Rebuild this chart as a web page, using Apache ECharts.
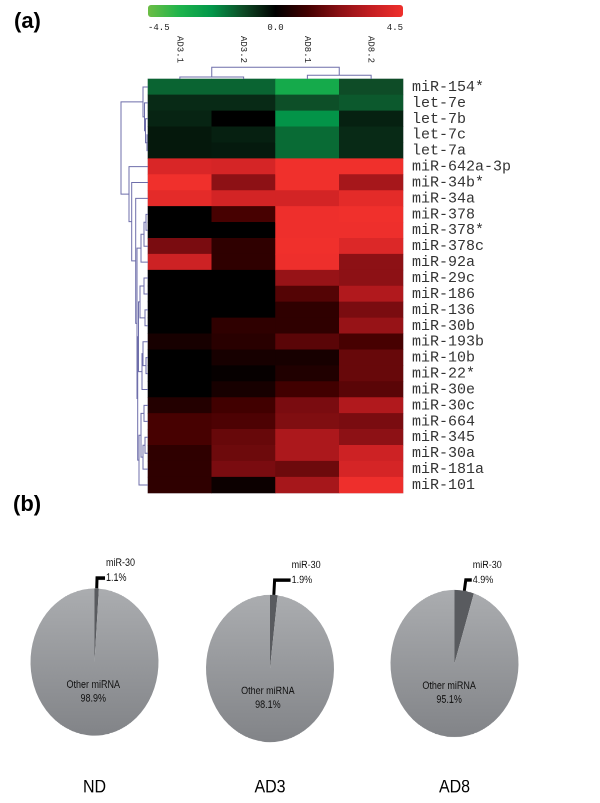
<!DOCTYPE html>
<html><head><meta charset="utf-8">
<script src="https://cdn.jsdelivr.net/npm/echarts@6/dist/echarts.min.js"></script>
<style>
html,body{margin:0;padding:0;background:#fff;overflow:hidden;width:600px;height:803px;}
#main{position:absolute;left:0;top:0;width:600px;height:803px;}
#pies{position:absolute;left:0;top:540px;width:600px;height:230px;transform:scaleY(1.15);transform-origin:0 0;}
</style></head><body>
<div id="main"></div><div id="pies"></div>
<script>
// ---------- Panel (a): heatmap data ----------
const samples = ['AD3.1', 'AD3.2', 'AD8.1', 'AD8.2'];
const mirnas = ['miR-154*', 'let-7e', 'let-7b', 'let-7c', 'let-7a', 'miR-642a-3p', 'miR-34b*', 'miR-34a',
  'miR-378', 'miR-378*', 'miR-378c', 'miR-92a', 'miR-29c', 'miR-186', 'miR-136', 'miR-30b', 'miR-193b',
  'miR-10b', 'miR-22*', 'miR-30e', 'miR-30c', 'miR-664', 'miR-345', 'miR-30a', 'miR-181a', 'miR-101'];
const ad31 = [-1.5, -0.64, -0.55, -0.37, -0.37, 3.9, 4.5, 4.2, 0, 0, 2.0, 3.6, 0, 0, 0, 0, 0.4, 0, 0, 0, 0.6, 1.2, 1.2, 0.8, 0.8, 0.8];
const ad32 = [-1.5, -0.64, 0, -0.49, -0.4, 3.8, 2.3, 3.75, 1.2, 0, 0.8, 0.8, 0, 0, 0, 0.8, 0.7, 0.4, 0.1, 0.4, 1.1, 1.3, 1.7, 1.8, 2.0, 0.2];
const ad81 = [-3.0, -1.2, -2.2, -1.6, -1.6, 4.5, 4.5, 3.75, 4.45, 4.45, 4.5, 4.45, 2.5, 1.4, 0.8, 0.8, 1.5, 0.4, 0.55, 1.1, 2.0, 2.1, 2.9, 2.9, 1.8, 2.8];
const ad82 = [-1.15, -1.35, -0.5, -0.64, -0.64, 4.5, 2.8, 4.2, 4.5, 4.45, 4.0, 2.3, 2.3, 3.0, 2.0, 2.5, 1.2, 1.7, 1.7, 1.5, 3.0, 2.0, 2.3, 3.6, 3.8, 4.45];
const scaleMin = -4.5, scaleMax = 4.5, scaleStep = 4.5;
const scaleColors = ['#6cbe45', '#1eb44c', '#03974a', '#0e4a26', '#000000', '#420000', '#8a1014', '#c41e22', '#f0302c'];

// hierarchical clustering (node ids continue after leaves): [childA, childB, height]
const rowLinkage = [
  [3, 4, 1], [2, 26, 2.5], [1, 27, 3.5], [0, 28, 5],
  [8, 9, 2], [30, 10, 4], [31, 11, 7],
  [12, 13, 4], [14, 15, 3], [33, 34, 8], [17, 18, 2], [16, 36, 5], [37, 19, 6], [35, 38, 9.5],
  [20, 21, 4], [22, 23, 3], [41, 24, 5], [40, 42, 7], [43, 25, 9], [39, 44, 10.3],
  [32, 45, 11], [7, 46, 12.3], [6, 47, 16.3], [5, 48, 19], [29, 49, 27]
];
const colLinkage = [[0, 1, 2], [2, 3, 3.7], [4, 5, 11.7]];

// ---------- Panel (b): pie data ----------
const groups = ['ND', 'AD3', 'AD8'];
const pieNames = ['miR-30', 'Other miRNA'];
const ndShare = [1.1, 98.9];
const ad3Share = [1.9, 98.1];
const ad8Share = [4.9, 95.1];

// ---------- build ----------
const heatData = [];
[ad31, ad32, ad81, ad82].forEach((col, c) => col.forEach((v, r) => heatData.push([c, r, v])));

function dendroSegments(linkage, n, horizontal) {
  const nodes = [];
  for (let i = 0; i < n; i++) nodes.push({ p: i + 0.5, h: 0 });
  const segs = [];
  linkage.forEach(([a, b, h]) => {
    const A = nodes[a], B = nodes[b];
    const pts = [[A.h, A.p], [h, A.p], [h, B.p], [B.h, B.p]];
    segs.push({ coords: horizontal ? pts : pts.map(([hh, pp]) => [pp, hh]) });
    nodes.push({ p: (A.p + B.p) / 2, h: h });
  });
  return segs;
}
const rowSegs = dendroSegments(rowLinkage, mirnas.length, true);
const colSegs = dendroSegments(colLinkage, samples.length, false);

const mono = '"Liberation Mono", "DejaVu Sans Mono", monospace';
const sans = '"Liberation Sans", Arial, sans-serif';
const dendroColor = '#6e6eaa';

const main = echarts.init(document.getElementById('main'), null, { devicePixelRatio: 2 });
main.setOption({
  animation: false,
  graphic: [
    { type: 'text', left: 14, top: 11, style: { text: '(a)', font: 'bold 22px ' + sans, fill: '#000' } },
    { type: 'text', left: 13, top: 494, style: { text: '(b)', font: 'bold 22px ' + sans, fill: '#000' } }
  ],
  visualMap: {
    type: 'continuous', min: scaleMin, max: scaleMax, orient: 'horizontal',
    left: 148, top: 5, itemWidth: 12, itemHeight: 255, calculable: false, hoverLink: false,
    padding: 0, seriesIndex: 0, inRange: { color: scaleColors }
  },
  grid: [
    { left: 148, top: 79, width: 255, height: 414, show: true, borderColor: '#c8c8d4', borderWidth: 1, backgroundColor: 'transparent' },
    { left: 115, top: 79, width: 33, height: 414 },
    { left: 148, top: 60, width: 255, height: 19 },
    { left: 148, top: 17, width: 255, height: 1 }
  ],
  xAxis: [
    { type: 'category', gridIndex: 0, data: samples, position: 'top',
      axisLine: { show: false }, axisTick: { show: false },
      axisLabel: { rotate: 90, margin: 16, fontFamily: mono, fontSize: 9, color: '#222', interval: 0 } },
    { type: 'value', gridIndex: 1, min: 0, max: 33, inverse: true, show: false },
    { type: 'value', gridIndex: 2, min: 0, max: 4, show: false },
    { type: 'value', gridIndex: 3, min: scaleMin, max: scaleMax, interval: scaleStep,
      axisLine: { show: false }, axisTick: { show: false }, splitLine: { show: false },
      axisLabel: { margin: 5, fontFamily: mono, fontSize: 9, color: '#222',
        formatter: v => v.toFixed(1), alignMinLabel: 'left', alignMaxLabel: 'right' } }
  ],
  yAxis: [
    { type: 'category', gridIndex: 0, data: mirnas, inverse: true, position: 'right',
      axisLine: { show: false }, axisTick: { show: false },
      axisLabel: { margin: 9, fontFamily: mono, fontSize: 15, color: '#333', interval: 0, hideOverlap: false } },
    { type: 'value', gridIndex: 1, min: 0, max: mirnas.length, inverse: true, show: false },
    { type: 'value', gridIndex: 2, min: 0, max: 19, show: false },
    { type: 'value', gridIndex: 3, show: false }
  ],
  series: [
    { type: 'heatmap', xAxisIndex: 0, yAxisIndex: 0, data: heatData, silent: true,
      itemStyle: { borderWidth: 0 }, emphasis: { disabled: true } },
    { type: 'lines', coordinateSystem: 'cartesian2d', xAxisIndex: 1, yAxisIndex: 1, polyline: true,
      silent: true, data: rowSegs, lineStyle: { color: dendroColor, width: 1, opacity: 1 } },
    { type: 'lines', coordinateSystem: 'cartesian2d', xAxisIndex: 2, yAxisIndex: 2, polyline: true,
      silent: true, data: colSegs, lineStyle: { color: dendroColor, width: 1, opacity: 1 } }
  ]
});

// ---------- pies (panel b is vertically stretched in the source) ----------
const pieCenters = [[94.5, 106.1], [270, 111.7], [454.5, 107.4]];
const leader = [[9, 8], [13, 16], [9.5, 6]];
const bigFill = { type: 'linear', x: 0, y: 0, x2: 0, y2: 1,
  colorStops: [{ offset: 0, color: '#abadb0' }, { offset: 1, color: '#828488' }] };
const pies = echarts.init(document.getElementById('pies'), null, { devicePixelRatio: 2 });
pies.setOption({
  animation: false,
  title: groups.map((g, i) => ({
    text: g, left: pieCenters[i][0], top: 207, textAlign: 'center', padding: 0,
    textStyle: { fontFamily: sans, fontSize: 16, fontWeight: 'normal', color: '#000' }
  })),
  series: [ndShare, ad3Share, ad8Share].map((share, i) => ({
    type: 'pie', center: pieCenters[i], radius: 64, startAngle: 90, clockwise: true,
    silent: true, avoidLabelOverlap: false,
    labelLayout: p => (p.dataIndex === 1 ? { dy: -9 } : {}),
    data: [
      { name: pieNames[0], value: share[0], itemStyle: { color: '#595b5f' },
        label: { position: 'outside', distanceToLabelLine: 1, align: 'left',
          formatter: p => '{n|' + p.name + '}\n{n|' + p.percent.toFixed(1) + '%}\n{n| }',
          rich: { n: { fontFamily: sans, fontSize: 9, lineHeight: 13, color: '#111' } } },
        labelLine: { show: true, length: leader[i][0], length2: leader[i][1],
          lineStyle: { color: '#000', width: 3 } } },
      { name: pieNames[1], value: share[1], itemStyle: { color: bigFill },
        label: { position: 'inside', fontFamily: sans, fontSize: 9, lineHeight: 12, color: '#111',
          formatter: p => p.name + '\n' + p.percent.toFixed(1) + '%' },
        labelLine: { show: false } }
    ]
  }))
});
</script>
</body></html>
